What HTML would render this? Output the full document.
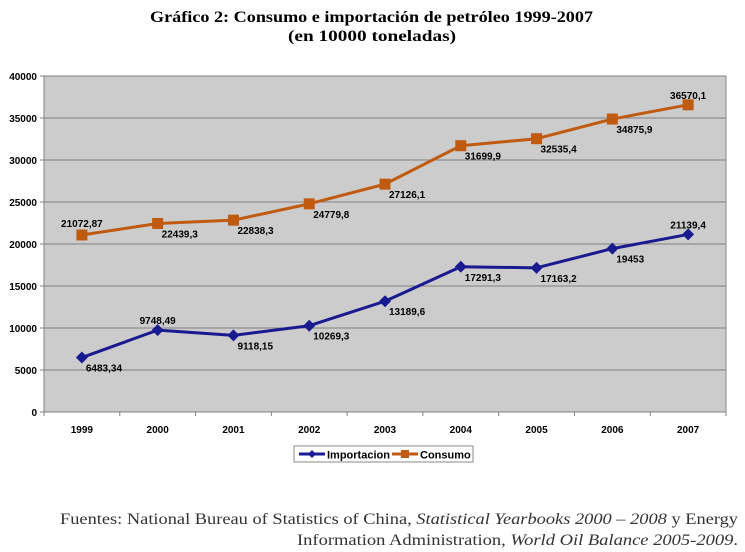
<!DOCTYPE html>
<html><head><meta charset="utf-8"><style>
body{margin:0;background:#fff;width:745px;height:552px;overflow:hidden;}
svg{display:block;}
</style></head><body>
<svg id="chart" width="745" height="552" xmlns="http://www.w3.org/2000/svg">
<text x="150" y="22" textLength="443" lengthAdjust="spacingAndGlyphs" font-family="Liberation Serif, serif" font-weight="bold" font-size="16">Gráfico 2: Consumo e importación de petróleo 1999-2007</text>
<text x="288" y="41" textLength="168" lengthAdjust="spacingAndGlyphs" font-family="Liberation Serif, serif" font-weight="bold" font-size="16">(en 10000 toneladas)</text>
<rect x="44" y="76" width="682" height="336" fill="#cccccc" stroke="#888"/>
<g id="grid"></g><g id="axes"></g><g id="series"></g>
<g>
<rect x="294" y="446" width="179" height="16" fill="#fff" stroke="#888"/>
<line x1="299" y1="454" x2="325" y2="454" stroke="#1a1a99" stroke-width="3"/>
<path d="M312 450 L316 454 L312 458 L308 454 Z" fill="#1a1a99"/>
<text x="327" y="458.5" font-family="Liberation Sans, sans-serif" font-weight="bold" font-size="11">Importacion</text>
<line x1="392" y1="454" x2="418" y2="454" stroke="#c05a10" stroke-width="3"/>
<rect x="401" y="450" width="8" height="8" fill="#c05a10"/>
<text x="420" y="458.5" font-family="Liberation Sans, sans-serif" font-weight="bold" font-size="11">Consumo</text>
</g>
<text x="60" y="524" textLength="678" lengthAdjust="spacingAndGlyphs" font-family="Liberation Serif, serif" font-size="16" fill="#333">Fuentes: National Bureau of Statistics of China, <tspan font-style="italic">Statistical Yearbooks 2000 – 2008</tspan> y Energy</text>
<text x="297" y="545" textLength="441" lengthAdjust="spacingAndGlyphs" font-family="Liberation Serif, serif" font-size="16" fill="#333">Information Administration, <tspan font-style="italic">World Oil Balance 2005-2009</tspan>.</text>
</svg>
<script>
const years=["1999","2000","2001","2002","2003","2004","2005","2006","2007"];
const importacion=[6483.34,9748.49,9118.15,10269.3,13189.6,17291.3,17163.2,19453,21139.4];
const importLabels=["6483,34","9748,49","9118,15","10269,3","13189,6","17291,3","17163,2","19453","21139,4"];
const consumo=[21072.87,22439.3,22838.3,24779.8,27126.1,31699.9,32535.4,34875.9,36570.1];
const consumoLabels=["21072,87","22439,3","22838,3","24779,8","27126,1","31699,9","32535,4","34875,9","36570,1"];
const yTicks=[0,5000,10000,15000,20000,25000,30000,35000,40000];
const L=44,R=726,T=76,B=412,YMAX=40000;
const step=(R-L)/years.length;
const xs=i=>L+step*(i+0.5);
const ys=v=>B-(v/YMAX)*(B-T);
const NS="http://www.w3.org/2000/svg";
function mk(tag,attrs,parent,txt){const e=document.createElementNS(NS,tag);for(const k in attrs)e.setAttribute(k,attrs[k]);if(txt!==undefined)e.textContent=txt;document.getElementById(parent).appendChild(e);return e;}
yTicks.forEach(v=>{
 if(v>0){const g=mk('line',{x1:L,x2:R,y1:ys(v),y2:ys(v),stroke:'#808080','stroke-width':1},'grid');
 
 }
 mk('line',{x1:L-4,x2:L,y1:ys(v),y2:ys(v),stroke:'#808080'},'axes');
 const t=mk('text',{x:L-7,y:ys(v)+4,'text-anchor':'end','font-family':'Liberation Sans, sans-serif','font-weight':'bold','font-size':'10'},'axes',String(v));
 
 
});
mk('line',{x1:L,x2:L,y1:T,y2:B,stroke:'#808080'},'axes');
mk('line',{x1:L,x2:R,y1:B,y2:B,stroke:'#808080'},'axes');
for(let i=0;i<=years.length;i++)mk('line',{x1:L+step*i,x2:L+step*i,y1:B,y2:B+4,stroke:'#808080'},'axes');
years.forEach((y,i)=>{
 const t=mk('text',{x:xs(i),y:B+21,'text-anchor':'middle','font-family':'Liberation Sans, sans-serif','font-weight':'bold','font-size':'10'},'axes',y);
 
 
});
function series(vals,labels,color,marker,name,above){
 const pts=vals.map((v,i)=>xs(i)+','+ys(v)).join(' ');
 const l=mk('polyline',{points:pts,fill:'none',stroke:color,'stroke-width':3,'stroke-linejoin':'round'},'series');
 
 
 vals.forEach((v,i)=>{
  const x=xs(i),y=ys(v);let m;
  if(marker==='d')m=mk('path',{d:`M${x} ${y-6} L${x+6} ${y} L${x} ${y+6} L${x-6} ${y} Z`,fill:color},'series');
  else m=mk('rect',{x:x-5.5,y:y-5.5,width:11,height:11,fill:color},'series');
  
  
  let tx=x+4,ty=y+14,anc='start';
  if(above[i]===1){tx=x;ty=y-6;anc='middle';}
  if(above[i]===2){tx=x;ty=y-8;anc='middle';}
  const t=mk('text',{x:tx,y:ty,'text-anchor':anc,'font-family':'Liberation Sans, sans-serif','font-weight':'bold','font-size':'10'},'series',labels[i]);
  
  
 });
}
series(importacion,importLabels,'#1a1a90','d','importacion',[0,1,0,0,0,0,0,0,1]);
series(consumo,consumoLabels,'#c05a10','s','consumo',[2,0,0,0,0,0,0,0,1]);
</script>
</body></html>
